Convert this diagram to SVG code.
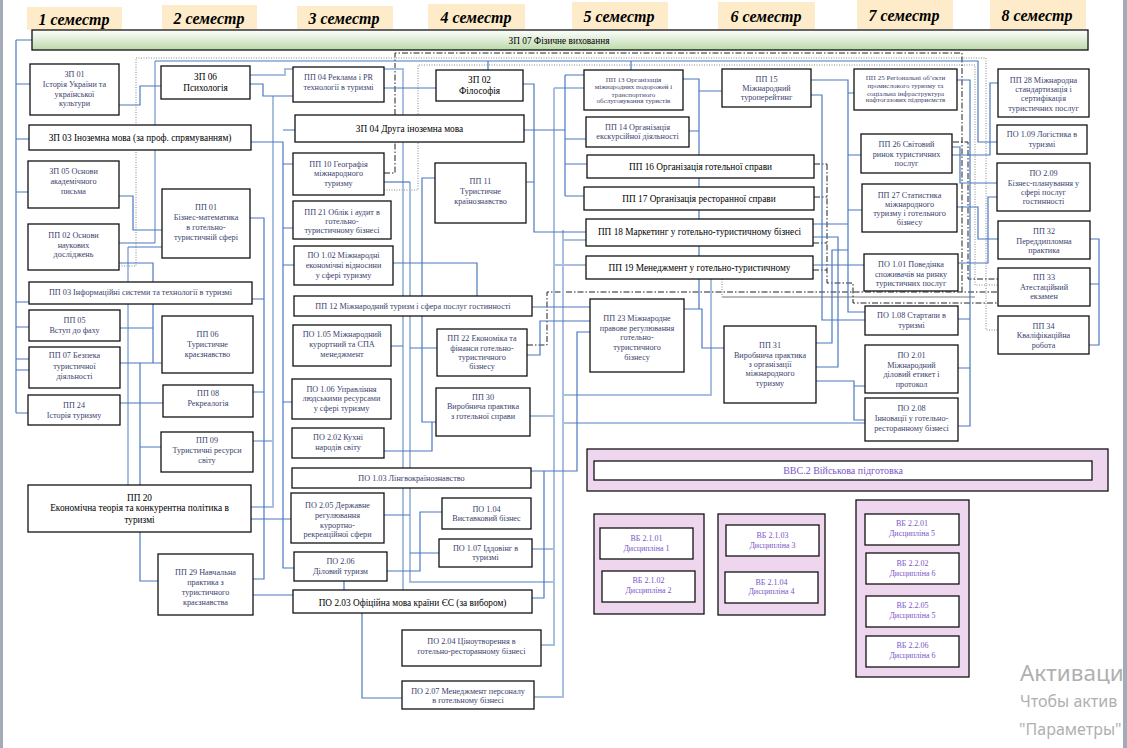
<svg xmlns="http://www.w3.org/2000/svg" width="1127" height="748" viewBox="0 0 1127 748">
<defs>
<linearGradient id="gr" x1="0" y1="0" x2="0" y2="1"><stop offset="0" stop-color="#ffffff"/><stop offset="1" stop-color="#bcd9a9"/></linearGradient>
<style>
.n rect{fill:#fff;stroke:#111;stroke-width:1.3}
.t{font-family:"Liberation Serif",serif;font-size:8.2px;fill:#3b3f6e;text-anchor:middle}
.s{font-size:7px}
.b{font-family:"Liberation Serif",serif;font-size:9.3px;fill:#000;text-anchor:middle}
.h rect{fill:#fdebc9}
.h text{font-family:"Liberation Serif",serif;font-size:16px;font-weight:bold;font-style:italic;fill:#000;text-anchor:middle}
.c{fill:none;stroke:#4a78c0;stroke-width:1.2}
.l{fill:none;stroke:#a9bfe0;stroke-width:2}
.dd{fill:none;stroke:#222;stroke-width:1;stroke-dasharray:6 2 1.5 2}
.dt{fill:none;stroke:#888;stroke-width:1;stroke-dasharray:1 1.5}
.gl{fill:none;stroke:#bbb;stroke-width:2}
.pg rect.o{fill:#efd6ef;stroke:#111;stroke-width:1.3}
.pg rect.i{fill:#fff;stroke:#111;stroke-width:1.3}
.pt{font-family:"Liberation Serif",serif;font-size:8px;fill:#7a55c8;text-anchor:middle}
.wm{font-family:"Noto Sans",sans-serif;fill:#b0b0b0}
</style>
</defs>
<rect x="0" y="0" width="1127" height="748" fill="#fff"/>

<g id="headers" class="h">
<rect x="27" y="7" width="95" height="23"/><text x="74" y="24.5">1 семестр</text>
<rect x="162" y="5" width="95" height="24"/><text x="209" y="23.5">2 семестр</text>
<rect x="297" y="6" width="96" height="23"/><text x="344" y="23.5">3 семестр</text>
<rect x="428" y="4" width="97" height="25"/><text x="476" y="22.5">4 семестр</text>
<rect x="572" y="2" width="96" height="27"/><text x="619" y="21.5">5 семестр</text>
<rect x="718" y="2" width="97" height="27"/><text x="766" y="21.5">6 семестр</text>
<rect x="857" y="0" width="96" height="29"/><text x="904" y="20.5">7 семестр</text>
<rect x="990" y="0" width="96" height="29"/><text x="1037" y="20.5">8 семестр</text>
</g>

<g id="connectors">
<path class="dt" d="M119,266H136V58H986V330H998"/>
<path class="dt" d="M384,190H418V65H975V285H998"/>
<path class="dt" d="M722,279V297"/>
<path class="gl" d="M722,297H975"/>
<path class="dd" d="M384,173H395V53H962V292H998"/>
<path class="dd" d="M527,345H547V292H962"/>
<path class="dd" d="M953,142H968V279H998"/>
<path class="dd" d="M814,164H827M814,197H827M813,243H827M813,270H827M827,164V283H853V303H998"/>

<path class="l" d="M250,75H285V69H403V590"/>
<path class="l" d="M273,96V507H251M253,441H273"/>
<path class="l" d="M155,243V61"/>
<path class="l" d="M410,182V582H554"/>
<path class="l" d="M554,88H584M554,88V645H541M530,416H554M554,265H586M532,549H554"/>
<path class="l" d="M563,230V697H534M563,240H586M563,395H711V279M563,423H865"/>
<path class="l" d="M128,247V485"/>

<path class="c" d="M16,40V413M16,40H32M16,84H30M16,139H29M16,192H28M16,302H29M16,327H29M16,359H29M16,370H29M16,413H28"/>
<path class="c" d="M119,105H140V86H161"/>
<path class="c" d="M119,196H133V230H162"/>
<path class="c" d="M119,243H155M155,61H978V142H997M488,61V70M631,61V70"/>
<path class="c" d="M250,84H263V96H293"/>
<path class="c" d="M251,142H283V568H294M283,130H295M283,164H293M283,228H293M283,265H294M283,402H292M251,519H291"/>
<path class="c" d="M250,218H264V579H253M252,299H264M253,392H264"/>
<path class="c" d="M384,88H436"/>
<path class="c" d="M384,182H410"/>
<path class="c" d="M435,178H422V422H436M384,451H432V422"/>
<path class="c" d="M523,84H534V232H586M526,182H534"/>
<path class="c" d="M524,130H565M565,75V196M565,75H584M565,139H586M565,164H587M565,196H584"/>
<path class="c" d="M393,263H477V296"/>
<path class="c" d="M532,307H590"/>
<path class="c" d="M527,355H540V321H590"/>
<path class="c" d="M391,346H403M437,348H410"/>
<path class="c" d="M531,471H577V332H590M544,471V598H532"/>
<path class="c" d="M384,515H410M387,571H420V512H442M410,553H439"/>
<path class="c" d="M344,581V590M362,613V698H402"/>
<path class="c" d="M140,532V581H158M253,595H293"/>
<path class="c" d="M162,247H128"/>
<path class="c" d="M119,263H153V363M120,328H153M120,363H162M140,363V485M140,447H161M120,403H163"/>
<path class="c" d="M683,79H699V309M689,131H699M699,91H722M684,309H702V348H724"/>
<path class="c" d="M811,80H848V312H865M848,93H854M848,155H861M848,210H862M813,224H848"/>
<path class="c" d="M811,95H822V320H865"/>
<path class="c" d="M813,237H838V367H816"/>
<path class="c" d="M813,265H864"/>
<path class="c" d="M816,343H832V250H848"/>
<path class="c" d="M816,381H854V420H865M854,386H865"/>
<path class="c" d="M957,80H970V426H958M958,319H970M958,368H970"/>
<path class="c" d="M952,155H990V83H998"/>
<path class="c" d="M952,147H960V183H997"/>
<path class="c" d="M957,207H978V239H998"/>
<path class="c" d="M958,263H988V197H997"/>
<path class="c" d="M1090,239H1099V345H1089M1090,284H1099"/>
</g>

<g id="zp07" class="n"><rect x="32" y="30" width="1056" height="20" style="fill:url(#gr)"/><text class="b" x="559" y="44">ЗП 07 Фізичне виховання</text></g>

<g id="zp01" class="n"><rect x="30" y="64" width="89" height="51"/><text class="t" x="74.5" y="77">ЗП 01<tspan x="74.5" y="87">Історія України та</tspan><tspan x="74.5" y="97">української</tspan><tspan x="74.5" y="106">культури</tspan></text></g>
<g id="zp03" class="n"><rect x="29" y="125" width="222" height="25"/><text class="b" x="140" y="141">ЗП 03 Іноземна мова (за проф. спрямуванням)</text></g>
<g id="zp05" class="n"><rect x="28" y="161" width="91" height="47"/><text class="t" x="73.5" y="174">ЗП 05 Основи<tspan x="73.5" y="184">академічного</tspan><tspan x="73.5" y="194">письма</tspan></text></g>
<g id="pp02" class="n"><rect x="28" y="224" width="91" height="46"/><text class="t" x="73.5" y="238">ПП 02 Основи<tspan x="73.5" y="248">наукових</tspan><tspan x="73.5" y="257">досліджень</tspan></text></g>
<g id="zp06" class="n"><rect x="161" y="66" width="89" height="33"/><text class="b" x="205.5" y="80">ЗП 06<tspan x="205.5" y="91">Психологія</tspan></text></g>
<g id="pp01" class="n"><rect x="162" y="189" width="88" height="69"/><text class="t" x="206" y="210">ПП 01<tspan x="206" y="220">Бізнес-математика</tspan><tspan x="206" y="230">в готельно-</tspan><tspan x="206" y="240">туристичній сфері</tspan></text></g>
<g id="pp03" class="n"><rect x="29" y="282" width="223" height="22"/><text class="t" x="140.5" y="295">ПП 03 Інформаційні системи та технології в туризмі</text></g>
<g id="pp05" class="n"><rect x="29" y="310" width="91" height="31"/><text class="t" x="74.5" y="323">ПП 05<tspan x="74.5" y="333">Вступ до фаху</tspan></text></g>
<g id="pp07" class="n"><rect x="29" y="347" width="91" height="41"/><text class="t" x="74.5" y="358">ПП 07 Безпека<tspan x="74.5" y="369">туристичної</tspan><tspan x="74.5" y="379">діяльності</tspan></text></g>
<g id="pp24" class="n"><rect x="28" y="395" width="92" height="30"/><text class="t" x="74" y="408">ПП 24<tspan x="74" y="418">Історія туризму</tspan></text></g>
<g id="pp06" class="n"><rect x="162" y="316" width="91" height="57"/><text class="t" x="207.5" y="337">ПП 06<tspan x="207.5" y="347">Туристичне</tspan><tspan x="207.5" y="357">краєзнавство</tspan></text></g>
<g id="pp08" class="n"><rect x="163" y="385" width="90" height="32"/><text class="t" x="208" y="396">ПП 08<tspan x="208" y="406">Рекреалогія</tspan></text></g>
<g id="pp09" class="n"><rect x="161" y="432" width="92" height="40"/><text class="t" x="207" y="443">ПП 09<tspan x="207" y="453">Туристичні ресурси</tspan><tspan x="207" y="463">світу</tspan></text></g>
<g id="pp20" class="n"><rect x="28" y="485" width="223" height="47"/><text class="b" x="139.5" y="501">ПП 20<tspan x="139.5" y="511">Економічна теорія та конкурентна політика в</tspan><tspan x="139.5" y="523">туризмі</tspan></text></g>
<g id="pp29" class="n"><rect x="158" y="554" width="95" height="61"/><text class="t" x="205.5" y="575">ПП 29 Навчальна<tspan x="205.5" y="585">практика з</tspan><tspan x="205.5" y="595">туристичного</tspan><tspan x="205.5" y="605">краєзнавства</tspan></text></g>

<g id="pp04" class="n"><rect x="293" y="67" width="91" height="35"/><text class="t" x="338.5" y="80">ПП 04 Реклама і PR<tspan x="338.5" y="90">технології в туризмі</tspan></text></g>
<g id="zp04" class="n"><rect x="295" y="115" width="229" height="27"/><text class="b" x="409.5" y="132">ЗП 04   Друга іноземна мова</text></g>
<g id="pp10" class="n"><rect x="293" y="153" width="91" height="42"/><text class="t" x="338.5" y="167">ПП 10 Географія<tspan x="338.5" y="176">міжнародного</tspan><tspan x="338.5" y="186">туризму</tspan></text></g>
<g id="pp21" class="n"><rect x="293" y="201" width="98" height="38"/><text class="t" x="342" y="215">ПП 21 Облік і аудит в<tspan x="342" y="224">готельно-</tspan><tspan x="342" y="233">туристичному бізнесі</tspan></text></g>
<g id="po102" class="n"><rect x="294" y="246" width="99" height="39"/><text class="t" x="343.5" y="258">ПО 1.02 Міжнародні<tspan x="343.5" y="268">економічні відносини</tspan><tspan x="343.5" y="278">у сфері туризму</tspan></text></g>
<g id="pp12" class="n"><rect x="294" y="296" width="238" height="20"/><text class="t" x="413" y="309">ПП 12 Міжнародний туризм і сфера послуг гостинності</text></g>
<g id="po105" class="n"><rect x="293" y="325" width="98" height="41"/><text class="t" x="342" y="337">ПО 1.05 Міжнародний<tspan x="342" y="347">курортний та СПА</tspan><tspan x="342" y="357">менеджмент</tspan></text></g>
<g id="po106" class="n"><rect x="292" y="379" width="99" height="40"/><text class="t" x="341.5" y="392">ПО 1.06 Управління<tspan x="341.5" y="401">людськими ресурсами</tspan><tspan x="341.5" y="411">у сфері туризму</tspan></text></g>
<g id="po202" class="n"><rect x="292" y="428" width="92" height="30"/><text class="t" x="338" y="440">ПО 2.02 Кухні<tspan x="338" y="450">народів світу</tspan></text></g>
<g id="po103" class="n"><rect x="292" y="468" width="239" height="20"/><text class="t" x="411.5" y="481">ПО 1.03 Лінгвокраїнознавство</text></g>
<g id="po205" class="n"><rect x="291" y="493" width="93" height="50"/><text class="t" x="337.5" y="508">ПО 2.05 Державне<tspan x="337.5" y="518">регулювання</tspan><tspan x="337.5" y="528">курортно-</tspan><tspan x="337.5" y="537">рекреаційної сфери</tspan></text></g>
<g id="po206" class="n"><rect x="294" y="552" width="93" height="29"/><text class="t" x="340.5" y="564">ПО 2.06<tspan x="340.5" y="574">Діловий туризм</tspan></text></g>
<g id="po203" class="n"><rect x="293" y="590" width="239" height="23"/><text class="b" x="412.5" y="606">ПО 2.03 Офіційна мова країни ЄС (за вибором)</text></g>
<g id="po204" class="n"><rect x="402" y="630" width="139" height="36"/><text class="t" x="471.5" y="644">ПО 2.04 Ціноутворення в<tspan x="471.5" y="654">готельно-ресторанному бізнесі</tspan></text></g>
<g id="po207" class="n"><rect x="402" y="681" width="132" height="28"/><text class="t" x="468" y="694">ПО 2.07 Менеджмент персоналу<tspan x="468" y="703">в готельному бізнесі</tspan></text></g>

<g id="zp02" class="n"><rect x="436" y="70" width="87" height="31"/><text class="b" x="479.5" y="83">ЗП 02<tspan x="479.5" y="94">Філософія</tspan></text></g>
<g id="pp11" class="n"><rect x="435" y="163" width="91" height="60"/><text class="t" x="480.5" y="184">ПП 11<tspan x="480.5" y="194">Туристичне</tspan><tspan x="480.5" y="204">країнознавство</tspan></text></g>
<g id="pp22" class="n"><rect x="437" y="329" width="90" height="47"/><text class="t" x="482" y="341">ПП 22 Економіка та<tspan x="482" y="351">фінанси готельно-</tspan><tspan x="482" y="360">туристичного</tspan><tspan x="482" y="369">бізнесу</tspan></text></g>
<g id="pp30" class="n"><rect x="436" y="388" width="94" height="48"/><text class="t" x="483" y="400">ПП 30<tspan x="483" y="409">Виробнича  практика</tspan><tspan x="483" y="419">з готельної справи</tspan></text></g>
<g id="po104" class="n"><rect x="442" y="498" width="89" height="31"/><text class="t" x="486.5" y="512">ПО 1.04<tspan x="486.5" y="521">Виставковий бізнес</tspan></text></g>
<g id="po107" class="n"><rect x="439" y="539" width="93" height="28"/><text class="t" x="485.5" y="551">ПО 1.07 Іддовінг в<tspan x="485.5" y="560">туризмі</tspan></text></g>

<g id="pp13" class="n"><rect x="584" y="70" width="99" height="40"/><text class="t s" x="633.5" y="81.5">ПП 13  Організація<tspan x="633.5" y="88.5">міжнародних подорожей і</tspan><tspan x="633.5" y="96.5">транспортного</tspan><tspan x="633.5" y="103">обслуговування туристів</tspan></text></g>
<g id="pp14" class="n"><rect x="586" y="117" width="103" height="30"/><text class="t" x="637.5" y="130">ПП 14 Організація<tspan x="637.5" y="139">екскурсійної діяльності</tspan></text></g>
<g id="pp16" class="n"><rect x="587" y="155" width="227" height="23"/><text class="b" x="700.5" y="170">ПП 16 Організація готельної справи</text></g>
<g id="pp17" class="n"><rect x="584" y="187" width="230" height="23"/><text class="b" x="699" y="202">ПП 17 Організація ресторанної справи</text></g>
<g id="pp18" class="n"><rect x="586" y="219" width="227" height="27"/><text class="b" x="699.5" y="235">ПП 18 Маркетинг  у готельно-туристичному бізнесі</text></g>
<g id="pp19" class="n"><rect x="586" y="256" width="227" height="23"/><text class="b" x="699.5" y="271">ПП 19 Менеджмент  у готельно-туристичному</text></g>
<g id="pp23" class="n"><rect x="590" y="299" width="94" height="73"/><text class="t" x="637" y="321">ПП 23 Міжнародне<tspan x="637" y="331">правове регулювання</tspan><tspan x="637" y="340">готельно-</tspan><tspan x="637" y="350">туристичного</tspan><tspan x="637" y="360">бізнесу</tspan></text></g>
<g id="pp31" class="n"><rect x="724" y="326" width="92" height="77"/><text class="t" x="770" y="348">ПП 31<tspan x="770" y="358">Виробнича  практика</tspan><tspan x="770" y="367">з організації</tspan><tspan x="770" y="376">міжнародного</tspan><tspan x="770" y="386">туризму</tspan></text></g>
<g id="pp15" class="n"><rect x="722" y="69" width="89" height="38"/><text class="t" x="766.5" y="82">ПП 15<tspan x="766.5" y="91">Міжнародний</tspan><tspan x="766.5" y="100">туроперейтинг</tspan></text></g>

<g id="pp25" class="n"><rect x="854" y="69" width="103" height="41"/><text class="t s" x="905.5" y="79.5">ПП 25 Регіональні об’єкти<tspan x="905.5" y="87.5">промислового туризму та</tspan><tspan x="905.5" y="95.5">соціальна інфраструктура</tspan><tspan x="905.5" y="102">нафтогазових підприємств</tspan></text></g>
<g id="pp26" class="n"><rect x="861" y="134" width="91" height="39"/><text class="t" x="906.5" y="147">ПП 26 Світовий<tspan x="906.5" y="157">ринок туристичних</tspan><tspan x="906.5" y="166">послуг</tspan></text></g>
<g id="pp27" class="n"><rect x="862" y="184" width="95" height="48"/><text class="t" x="909.5" y="198">ПП 27 Статистика<tspan x="909.5" y="207">міжнародного</tspan><tspan x="909.5" y="216">туризму і готельного</tspan><tspan x="909.5" y="225">бізнесу</tspan></text></g>
<g id="po101" class="n"><rect x="864" y="254" width="94" height="37"/><text class="t" x="911" y="267">ПО 1.01 Поведінка<tspan x="911" y="277">споживачів на ринку</tspan><tspan x="911" y="286">туристичних послуг</tspan></text></g>
<g id="po108" class="n"><rect x="865" y="306" width="93" height="29"/><text class="t" x="911.5" y="318">ПО 1.08 Стартапи в<tspan x="911.5" y="328">туризмі</tspan></text></g>
<g id="po201" class="n"><rect x="865" y="345" width="93" height="48"/><text class="t" x="911.5" y="358">ПО 2.01<tspan x="911.5" y="368">Міжнародний</tspan><tspan x="911.5" y="377">діловий етикет і</tspan><tspan x="911.5" y="387">протокол</tspan></text></g>
<g id="po208" class="n"><rect x="865" y="398" width="93" height="43"/><text class="t" x="911.5" y="411">ПО 2.08<tspan x="911.5" y="421">Інновації у готельно-</tspan><tspan x="911.5" y="431">ресторанному бізнесі</tspan></text></g>

<g id="pp28" class="n"><rect x="998" y="69" width="91" height="48"/><text class="t" x="1043.5" y="83">ПП 28 Міжнародна<tspan x="1043.5" y="92">стандартизація і</tspan><tspan x="1043.5" y="101">сертифікація</tspan><tspan x="1043.5" y="111">туристичних послуг</tspan></text></g>
<g id="po109" class="n"><rect x="997" y="125" width="90" height="29"/><text class="t" x="1042" y="137">ПО 1.09 Логістика в<tspan x="1042" y="147">туризмі</tspan></text></g>
<g id="po209" class="n"><rect x="997" y="163" width="93" height="48"/><text class="t" x="1043.5" y="176">ПО 2.09<tspan x="1043.5" y="186">Бізнес-планування у</tspan><tspan x="1043.5" y="195">сфері послуг</tspan><tspan x="1043.5" y="204">гостинності</tspan></text></g>
<g id="pp32" class="n"><rect x="998" y="221" width="92" height="38"/><text class="t" x="1044" y="234">ПП 32<tspan x="1044" y="244">Переддипломна</tspan><tspan x="1044" y="253">практика</tspan></text></g>
<g id="pp33" class="n"><rect x="998" y="268" width="92" height="38"/><text class="t" x="1044" y="280">ПП 33<tspan x="1044" y="290">Атестаційний</tspan><tspan x="1044" y="299">екзамен</tspan></text></g>
<g id="pp34" class="n"><rect x="998" y="316" width="91" height="38"/><text class="t" x="1043.5" y="329">ПП 34<tspan x="1043.5" y="338">Кваліфікаційна</tspan><tspan x="1043.5" y="348">робота</tspan></text></g>

<g id="vvs2" class="pg"><rect class="o" x="587" y="449" width="521" height="42"/><rect class="i" x="594" y="461" width="498" height="19"/><text class="pt" x="843" y="474" style="font-size:10px">ВВС.2 Військова підготовка</text></g>
<g id="vb21a" class="pg"><rect class="o" x="594" y="514" width="110" height="100"/>
<rect class="i" x="600" y="528" width="93" height="31"/><text class="pt" x="646.5" y="541">ВБ 2.1.01<tspan x="646.5" y="551">Дисципліна  1</tspan></text>
<rect class="i" x="602" y="571" width="93" height="31"/><text class="pt" x="648.5" y="583">ВБ 2.1.02<tspan x="648.5" y="593">Дисципліна  2</tspan></text></g>
<g id="vb21b" class="pg"><rect class="o" x="718" y="514" width="107" height="101"/>
<rect class="i" x="726" y="525" width="93" height="31"/><text class="pt" x="772.5" y="538">ВБ 2.1.03<tspan x="772.5" y="548">Дисципліна  3</tspan></text>
<rect class="i" x="725" y="572" width="93" height="31"/><text class="pt" x="771.5" y="585">ВБ 2.1.04<tspan x="771.5" y="594">Дисципліна  4</tspan></text></g>
<g id="vb22" class="pg"><rect class="o" x="856" y="500" width="113" height="177"/>
<rect class="i" x="865" y="514" width="94" height="31"/><text class="pt" x="912" y="526">ВБ 2.2.01<tspan x="912" y="536">Дисципліна  5</tspan></text>
<rect class="i" x="866" y="553" width="93" height="31"/><text class="pt" x="912.5" y="566">ВБ 2.2.02<tspan x="912.5" y="576">Дисципліна  6</tspan></text>
<rect class="i" x="866" y="596" width="93" height="31"/><text class="pt" x="912.5" y="608">ВБ 2.2.05<tspan x="912.5" y="618">Дисципліна  5</tspan></text>
<rect class="i" x="866" y="636" width="93" height="31"/><text class="pt" x="912.5" y="648">ВБ 2.2.06<tspan x="912.5" y="658">Дисципліна  6</tspan></text></g>

<g id="watermark">
<text class="wm" x="1020" y="681" style="font-size:22.5px">Активаци</text>
<text class="wm" x="1020" y="707" style="font-size:16px">Чтобы актив</text>
<text class="wm" x="1019" y="735" style="font-size:16px">"Параметры"</text>
</g>
<rect x="0" y="0" width="3" height="748" fill="#a3abb6"/>
<rect x="1123" y="0" width="4" height="748" fill="#a3abb6"/>
</svg>
